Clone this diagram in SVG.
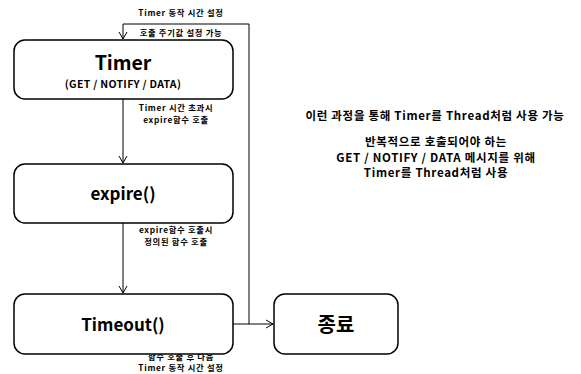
<svg xmlns="http://www.w3.org/2000/svg" width="581" height="374" viewBox="0 0 581 374">
<defs>
<marker id="arr" markerWidth="10" markerHeight="10" refX="8" refY="5" orient="auto" markerUnits="userSpaceOnUse">
<path d="M1,1 L8,5 L1,9" fill="none" stroke="#000" stroke-width="1"/>
</marker>
<style>
text{font-family:"Noto Sans CJK KR","Noto Sans",sans-serif;font-weight:bold;fill:#000;text-anchor:middle}
.box{fill:#fff;stroke:#000;stroke-width:1.5}
.ln{fill:none;stroke:#000;stroke-width:1}
.s{font-size:8.3px;letter-spacing:0.7px}
.r{font-size:11.5px;letter-spacing:0.7px}
</style>
</defs>
<rect width="581" height="374" fill="#fff"/>
<g id="connectors">
<path class="ln" d="M233,324 H249 V24 H123 V39" marker-end="url(#arr)"/>
<path class="ln" d="M249,324 H273" marker-end="url(#arr)"/>
<path class="ln" d="M123,99 V163" marker-end="url(#arr)"/>
<path class="ln" d="M123,223 V293" marker-end="url(#arr)"/>
<text class="s" x="181" y="16">Timer 동작 시간 설정</text>
<text class="s" x="181" y="36">호출 주기값 설정 가능</text>
<text class="s" x="176" y="111">Timer 시간 초과시</text>
<text class="s" x="176" y="123">expire함수 호출</text>
<text class="s" x="176" y="233">expire함수 호출시</text>
<text class="s" x="176" y="245">정의된 함수 호출</text>
<text class="s" x="181" y="360">함수 호출 후 다음</text>
<text class="s" x="181" y="371">Timer 동작 시간 설정</text>
</g>
<g id="timer">
<rect class="box" x="14" y="40" width="219" height="59" rx="11"/>
<text x="123" y="70" font-size="19.5">Timer</text>
<text x="123" y="87.5" font-size="10.5" letter-spacing="0.3">(GET / NOTIFY / DATA)</text>
</g>
<g id="expire">
<rect class="box" x="14" y="164" width="219" height="59" rx="11"/>
<text x="123" y="200" font-size="17">expire()</text>
</g>
<g id="timeout">
<rect class="box" x="14" y="294" width="219" height="60" rx="11"/>
<text x="123" y="331" font-size="17">Timeout()</text>
</g>
<g id="end">
<rect class="box" x="274" y="294" width="124" height="60" rx="11"/>
<text x="336" y="332" font-size="20">종료</text>
</g>
<g id="note">
<text class="r" x="435" y="120">이런 과정을 통해 Timer를 Thread처럼 사용 가능</text>
<text class="r" x="436" y="146">반복적으로 호출되어야 하는</text>
<text class="r" x="436" y="161.5">GET / NOTIFY / DATA 메시지를 위해</text>
<text class="r" x="436" y="177">Timer를 Thread처럼 사용</text>
</g>
</svg>
